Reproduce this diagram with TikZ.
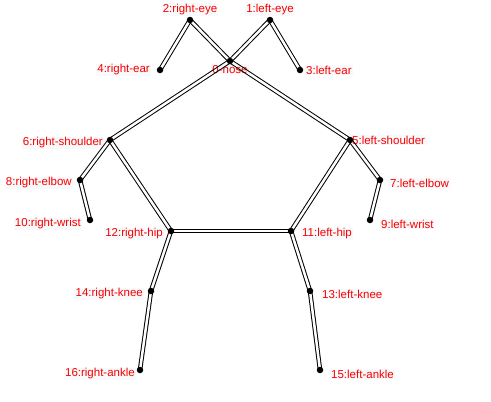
\documentclass[tikz,border=0pt]{standalone}
\usepackage{fontspec}
\setmainfont{Liberation Sans}
\definecolor{lblbg}{RGB}{248,249,251}
\begin{document}
\begin{tikzpicture}[x=1bp, y=-1bp,
          bone/.style={draw=black, line width=1bp, double=white, double distance=2.5bp},
          joint/.style={circle, fill=black, inner sep=0pt, minimum size=6.5bp},
          kp/.style={font=\fontsize{11.5bp}{13bp}\selectfont, text=red, fill=lblbg, inner sep=1bp}]
        \useasboundingbox (0,0) rectangle (491,401);
        % keypoints
        \coordinate (n0) at (230,61);
        \coordinate (n1) at (270,20);
        \coordinate (n2) at (190,20);
        \coordinate (n3) at (300,70);
        \coordinate (n4) at (160,70);
        \coordinate (n5) at (350,140);
        \coordinate (n6) at (110,140);
        \coordinate (n7) at (380,180);
        \coordinate (n8) at (80,180);
        \coordinate (n9) at (370,220);
        \coordinate (n10) at (90,220);
        \coordinate (n11) at (291,231);
        \coordinate (n12) at (171,231);
        \coordinate (n13) at (310,291);
        \coordinate (n14) at (151,291);
        \coordinate (n15) at (320,370);
        \coordinate (n16) at (140,370);
        % skeleton
        \draw[bone] (n1) -- (n3);
        \draw[bone] (n2) -- (n4);
        \draw[bone] (n2) -- (n0) -- (n5);
        \draw[bone] (n1) -- (n0) -- (n6);
        \draw[bone] (n5) -- (n7) -- (n9);
        \draw[bone] (n6) -- (n8) -- (n10);
        \draw[bone] (n5) -- (n11);
        \draw[bone] (n6) -- (n12);
        \draw[bone] (n11) -- (n12);
        \draw[bone] (n11) -- (n13) -- (n15);
        \draw[bone] (n12) -- (n14) -- (n16);
        % labels (multiplied, so the lines stay on top)
        \begin{scope}[blend mode=multiply]
        \node[kp, anchor=north] (l0) at ([yshift=-3bp]n0) {0-nose};
        \node[kp, anchor=south] (l1) at ([yshift=4bp]n1) {1:left-eye};
        \node[kp, anchor=south] (l2) at ([yshift=4bp]n2) {2:right-eye};
        \node[kp, anchor=west] (l3) at ([xshift=5bp]n3) {3:left-ear};
        \node[kp, anchor=east] (l4) at ([xshift=-9bp]n4) {4:right-ear};
        \node[kp, anchor=west] (l5) at ([xshift=1bp]n5) {5:left-shoulder};
        \node[kp, anchor=east] (l6) at ([xshift=-6bp, yshift=-3bp]n6) {6:right-shoulder};
        \node[kp, anchor=west] (l7) at ([xshift=9bp, yshift=-3bp]n7) {7:left-elbow};
        \node[kp, anchor=east] (l8) at ([xshift=-7bp, yshift=-3bp]n8) {8:right-elbow};
        \node[kp, anchor=west] (l9) at ([xshift=10bp, yshift=-4bp]n9) {9:left-wrist};
        \node[kp, anchor=east] (l10) at ([xshift=-8bp, yshift=-4bp]n10) {10:right-wrist};
        \node[kp, anchor=west] (l11) at ([xshift=10bp, yshift=-3bp]n11) {11:left-hip};
        \node[kp, anchor=east] (l12) at ([xshift=-7bp, yshift=-3bp]n12) {12:right-hip};
        \node[kp, anchor=west] (l13) at ([xshift=11bp, yshift=-3bp]n13) {13:left-knee};
        \node[kp, anchor=east] (l14) at ([xshift=-7bp, yshift=-3bp]n14) {14:right-knee};
        \node[kp, anchor=west] (l15) at ([xshift=10bp, yshift=-4bp]n15) {15:left-ankle};
        \node[kp, anchor=east] (l16) at ([xshift=-4bp, yshift=-4bp]n16) {16:right-ankle};
        \end{scope}
        \foreach \i in {0,...,16}
          \node[joint] (d\i) at (n\i) {};
      \end{tikzpicture}
\end{document}
